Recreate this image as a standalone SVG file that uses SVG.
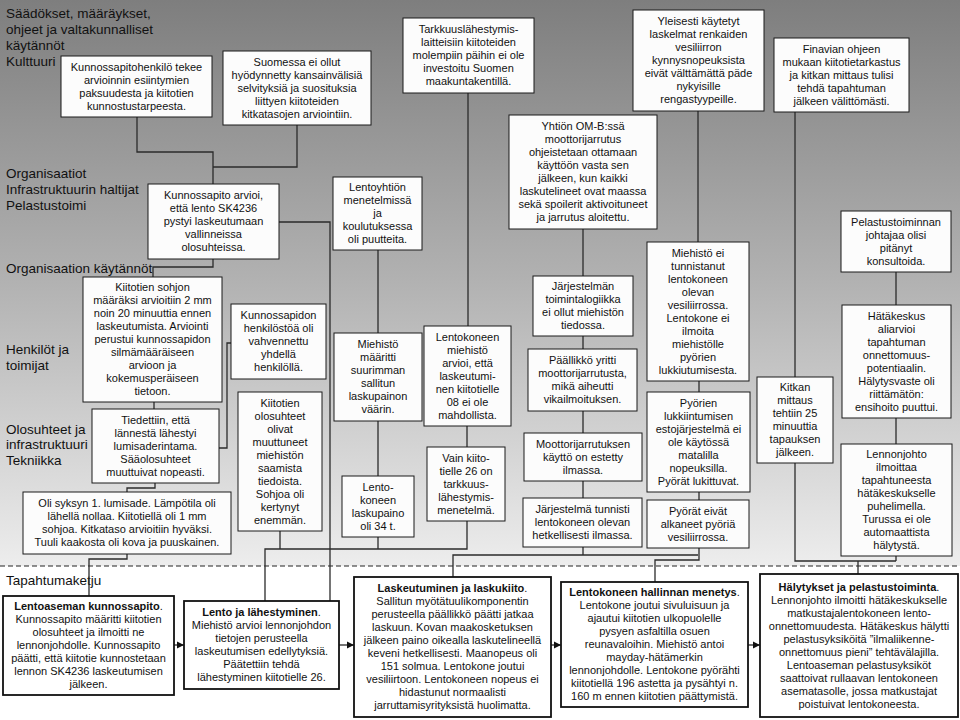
<svg xmlns="http://www.w3.org/2000/svg" width="960" height="720" viewBox="0 0 960 720">
<defs>
<linearGradient id="bg" x1="0" y1="0" x2="0" y2="1">
<stop offset="0" stop-color="#7e7e7e"/>
<stop offset="0.5" stop-color="#b2b2b2"/>
<stop offset="1" stop-color="#ededed"/>
</linearGradient>
<marker id="arr" markerWidth="8" markerHeight="8" refX="7" refY="4" orient="auto" markerUnits="userSpaceOnUse">
<path d="M0,0.5 L7,4 L0,7.5 Z" fill="#111"/>
</marker>
<style>
.box{fill:#fcfcfc;stroke:#1a1a1a;stroke-width:1}
.ev{fill:#ffffff;stroke:#111;stroke-width:1.8}
.t{font-family:"Liberation Sans",Arial,sans-serif;font-size:11px;fill:#111;text-anchor:middle}
.lab{font-family:"Liberation Sans",Arial,sans-serif;font-size:13.5px;fill:#111}
.c{fill:none;stroke:#2b2b2b;stroke-width:1.3}
.b{font-weight:bold}
</style>
</defs>
<rect x="0" y="0" width="960" height="566" fill="url(#bg)"/>
<rect x="0" y="566" width="960" height="154" fill="#ffffff"/>
<line x1="0" y1="566" x2="960" y2="566" stroke="#222" stroke-width="1" stroke-dasharray="5 3"/>

<g id="labels">
<text class="lab" x="6" y="18">Säädökset, määräykset,</text>
<text class="lab" x="6" y="34">ohjeet ja valtakunnalliset</text>
<text class="lab" x="6" y="50">käytännöt</text>
<text class="lab" x="6" y="66">Kulttuuri</text>
<text class="lab" x="6" y="178">Organisaatiot</text>
<text class="lab" x="6" y="194">Infrastruktuurin  haltijat</text>
<text class="lab" x="6" y="210">Pelastustoimi</text>
<text class="lab" x="6" y="273">Organisaation  käytännöt</text>
<text class="lab" x="6" y="354">Henkilöt ja</text>
<text class="lab" x="6" y="370">toimijat</text>
<text class="lab" x="6" y="434">Olosuhteet ja</text>
<text class="lab" x="6" y="449">infrastruktuuri</text>
<text class="lab" x="6" y="465">Tekniikka</text>
<text class="lab" x="6" y="585">Tapahtumaketju</text>
</g>

<g id="connectors">
<polyline class="c" points="137,117 137,152 213,152 213,184"/>
<polyline class="c" points="297,125 297,167 213,167"/>
<polyline class="c" points="213,259 213,267 153,267 153,277"/>
<polyline class="c" points="154,402 154,409"/>
<polyline class="c" points="231,343 227,343 227,448 219,448"/>
<polyline class="c" points="155,483 155,488 127,488 127,492"/>
<polyline class="c" points="127,554 127,559 89,559 89,596"/>
<polyline class="c" points="279,222 330,222 330,601"/>
<polyline class="c" points="378,250 378,333"/>
<polyline class="c" points="378,421 378,476"/>
<polyline class="c" points="378,537 378,549"/>
<polyline class="c" points="280,531 280,549"/>
<polyline class="c" points="468,93 468,326"/>
<polyline class="c" points="467,426 467,447"/>
<polyline class="c" points="467,521 467,549 265,549 265,601"/>
<polyline class="c" points="583,229 583,276"/>
<polyline class="c" points="583,336 583,349"/>
<polyline class="c" points="583,411 583,433"/>
<polyline class="c" points="583,481 583,498"/>
<polyline class="c" points="583,547 583,555"/>
<polyline class="c" points="698,555 453,555 453,577"/>
<polyline class="c" points="698,111 698,242"/>
<polyline class="c" points="699,381 699,392"/>
<polyline class="c" points="699,492 699,500"/>
<polyline class="c" points="699,548 699,560 655,560 655,582"/>
<polyline class="c" points="795,112 795,377"/>
<polyline class="c" points="795,463 795,561 896,561"/>
<polyline class="c" points="896,272 896,305"/>
<polyline class="c" points="896,418 896,444"/>
<polyline class="c" points="896,556 896,561"/>
<polyline class="c" points="858,561 858,574"/>
<line class="c" x1="174" y1="645" x2="184" y2="645" marker-end="url(#arr)"/>
<line class="c" x1="339" y1="645" x2="354" y2="645" marker-end="url(#arr)"/>
<line class="c" x1="551" y1="645" x2="561" y2="645" marker-end="url(#arr)"/>
<line class="c" x1="748" y1="645" x2="760" y2="645" marker-end="url(#arr)"/>
</g>

<g id="n-kunnossapitohenkilo">
<rect class="box" x="61" y="56" width="151" height="61"/>
<text class="t" x="136.5" y="70.8"><tspan x="136.5">Kunnossapitohenkilö tekee</tspan><tspan x="136.5" dy="13">arvioinnin esiintymien</tspan><tspan x="136.5" dy="13">paksuudesta ja kiitotien</tspan><tspan x="136.5" dy="13">kunnostustarpeesta.</tspan></text>
</g>
<g id="n-suomessa">
<rect class="box" x="223" y="51" width="148" height="74"/>
<text class="t" x="297" y="65.8"><tspan x="297">Suomessa ei ollut</tspan><tspan x="297" dy="13">hyödynnetty kansainvälisiä</tspan><tspan x="297" dy="13">selvityksiä ja suosituksia</tspan><tspan x="297" dy="13">liittyen kiitoteiden</tspan><tspan x="297" dy="13">kitkatasojen  arviointiin.</tspan></text>
</g>
<g id="n-kunnossapito-arvioi">
<rect class="box" x="148" y="184" width="131" height="75"/>
<text class="t" x="213.5" y="199.3"><tspan x="213.5">Kunnossapito arvioi,</tspan><tspan x="213.5" dy="13">että lento SK4236</tspan><tspan x="213.5" dy="13">pystyi laskeutumaan</tspan><tspan x="213.5" dy="13">vallinneissa</tspan><tspan x="213.5" dy="13">olosuhteissa.</tspan></text>
</g>
<g id="n-lentoyhtion">
<rect class="box" x="333" y="177" width="89" height="73"/>
<text class="t" x="377.5" y="191.3"><tspan x="377.5">Lentoyhtiön</tspan><tspan x="377.5" dy="13">menetelmissä</tspan><tspan x="377.5" dy="13">ja</tspan><tspan x="377.5" dy="13">koulutuksessa</tspan><tspan x="377.5" dy="13">oli puutteita.</tspan></text>
</g>
<g id="n-tarkkuus">
<rect class="box" x="403" y="18" width="131" height="75"/>
<text class="t" x="468.5" y="33.3"><tspan x="468.5">Tarkkuuslähestymis-</tspan><tspan x="468.5" dy="13">laitteisiin  kiitoteiden</tspan><tspan x="468.5" dy="13">molempiin  päihin ei ole</tspan><tspan x="468.5" dy="13">investoitu Suomen</tspan><tspan x="468.5" dy="13">maakuntakentillä.</tspan></text>
</g>
<g id="n-yleisesti">
<rect class="box" x="633" y="10" width="131" height="101"/>
<text class="t" x="698.5" y="25.3"><tspan x="698.5">Yleisesti käytetyt</tspan><tspan x="698.5" dy="13">laskelmat  renkaiden</tspan><tspan x="698.5" dy="13">vesiliirron</tspan><tspan x="698.5" dy="13">kynnysnopeuksista</tspan><tspan x="698.5" dy="13">eivät välttämättä päde</tspan><tspan x="698.5" dy="13">nykyisille</tspan><tspan x="698.5" dy="13">rengastyypeille.</tspan></text>
</g>
<g id="n-finavian">
<rect class="box" x="774" y="38" width="135" height="74"/>
<text class="t" x="841.5" y="52.8"><tspan x="841.5">Finavian ohjeen</tspan><tspan x="841.5" dy="13">mukaan  kiitotietarkastus</tspan><tspan x="841.5" dy="13">ja kitkan mittaus tulisi</tspan><tspan x="841.5" dy="13">tehdä tapahtuman</tspan><tspan x="841.5" dy="13">jälkeen  välittömästi.</tspan></text>
</g>
<g id="n-yhtion">
<rect class="box" x="509" y="115" width="148" height="114"/>
<text class="t" x="583" y="130.3"><tspan x="583">Yhtiön OM-B:ssä</tspan><tspan x="583" dy="13">moottorijarrutus</tspan><tspan x="583" dy="13">ohjeistetaan ottamaan</tspan><tspan x="583" dy="13">käyttöön vasta sen</tspan><tspan x="583" dy="13">jälkeen,  kun kaikki</tspan><tspan x="583" dy="13">laskutelineet  ovat maassa</tspan><tspan x="583" dy="13">sekä spoilerit aktivoituneet</tspan><tspan x="583" dy="13">ja jarrutus aloitettu.</tspan></text>
</g>
<g id="n-pelastustoiminnan">
<rect class="box" x="841" y="211" width="110" height="61"/>
<text class="t" x="896" y="225.8"><tspan x="896">Pelastustoiminnan</tspan><tspan x="896" dy="13">johtajaa  olisi</tspan><tspan x="896" dy="13">pitänyt</tspan><tspan x="896" dy="13">konsultoida.</tspan></text>
</g>
<g id="n-jarjestelman">
<rect class="box" x="533" y="276" width="100" height="60"/>
<text class="t" x="583" y="290.3"><tspan x="583">Järjestelmän</tspan><tspan x="583" dy="13">toimintalogiikka</tspan><tspan x="583" dy="13">ei ollut  miehistön</tspan><tspan x="583" dy="13">tiedossa.</tspan></text>
</g>
<g id="n-miehisto-ei">
<rect class="box" x="647" y="242" width="102" height="139"/>
<text class="t" x="698" y="256.8"><tspan x="698">Miehistö  ei</tspan><tspan x="698" dy="13">tunnistanut</tspan><tspan x="698" dy="13">lentokoneen</tspan><tspan x="698" dy="13">olevan</tspan><tspan x="698" dy="13">vesiliirrossa.</tspan><tspan x="698" dy="13">Lentokone ei</tspan><tspan x="698" dy="13">ilmoita</tspan><tspan x="698" dy="13">miehistölle</tspan><tspan x="698" dy="13">pyörien</tspan><tspan x="698" dy="13">lukkiutumisesta.</tspan></text>
</g>
<g id="n-kiitotien-sohjon">
<rect class="box" x="83" y="277" width="139" height="125"/>
<text class="t" x="152.5" y="291.3"><tspan x="152.5">Kiitotien sohjon</tspan><tspan x="152.5" dy="13">määräksi arvioitiin 2 mm</tspan><tspan x="152.5" dy="13">noin 20 minuuttia  ennen</tspan><tspan x="152.5" dy="13">laskeutumista. Arviointi</tspan><tspan x="152.5" dy="13">perustui kunnossapidon</tspan><tspan x="152.5" dy="13">silmämääräiseen</tspan><tspan x="152.5" dy="13">arvioon ja</tspan><tspan x="152.5" dy="13">kokemusperäiseen</tspan><tspan x="152.5" dy="13">tietoon.</tspan></text>
</g>
<g id="n-kunnossapidon-henkilosto">
<rect class="box" x="231" y="304" width="95" height="75"/>
<text class="t" x="278.5" y="319.3"><tspan x="278.5">Kunnossapidon</tspan><tspan x="278.5" dy="13">henkilöstöä oli</tspan><tspan x="278.5" dy="13">vahvennettu</tspan><tspan x="278.5" dy="13">yhdellä</tspan><tspan x="278.5" dy="13">henkilöllä.</tspan></text>
</g>
<g id="n-miehisto-maaritti">
<rect class="box" x="334" y="333" width="88" height="88"/>
<text class="t" x="378" y="348.3"><tspan x="378">Miehistö</tspan><tspan x="378" dy="13">määritti</tspan><tspan x="378" dy="13">suurimman</tspan><tspan x="378" dy="13">sallitun</tspan><tspan x="378" dy="13">laskupainon</tspan><tspan x="378" dy="13">väärin.</tspan></text>
</g>
<g id="n-lentokoneen-miehisto">
<rect class="box" x="424" y="326" width="87" height="100"/>
<text class="t" x="467.5" y="340.8"><tspan x="467.5">Lentokoneen</tspan><tspan x="467.5" dy="13">miehistö</tspan><tspan x="467.5" dy="13">arvioi, että</tspan><tspan x="467.5" dy="13">laskeutumi-</tspan><tspan x="467.5" dy="13">nen kiitotielle</tspan><tspan x="467.5" dy="13">08 ei ole</tspan><tspan x="467.5" dy="13">mahdollista.</tspan></text>
</g>
<g id="n-paallikko">
<rect class="box" x="528" y="349" width="109" height="62"/>
<text class="t" x="582.5" y="364.3"><tspan x="582.5">Päällikkö  yritti</tspan><tspan x="582.5" dy="13">moottorijarrutusta,</tspan><tspan x="582.5" dy="13">mikä  aiheutti</tspan><tspan x="582.5" dy="13">vikailmoituksen.</tspan></text>
</g>
<g id="n-hatakeskus">
<rect class="box" x="842" y="305" width="109" height="113"/>
<text class="t" x="896.5" y="319.8"><tspan x="896.5">Hätäkeskus</tspan><tspan x="896.5" dy="13">aliarvioi</tspan><tspan x="896.5" dy="13">tapahtuman</tspan><tspan x="896.5" dy="13">onnettomuus-</tspan><tspan x="896.5" dy="13">potentiaalin.</tspan><tspan x="896.5" dy="13">Hälytysvaste oli</tspan><tspan x="896.5" dy="13">riittämätön:</tspan><tspan x="896.5" dy="13">ensihoito puuttui.</tspan></text>
</g>
<g id="n-kitkan">
<rect class="box" x="757" y="377" width="76" height="86"/>
<text class="t" x="795" y="391.3"><tspan x="795">Kitkan</tspan><tspan x="795" dy="13">mittaus</tspan><tspan x="795" dy="13">tehtiin 25</tspan><tspan x="795" dy="13">minuuttia</tspan><tspan x="795" dy="13">tapauksen</tspan><tspan x="795" dy="13">jälkeen.</tspan></text>
</g>
<g id="n-pyorien">
<rect class="box" x="647" y="392" width="103" height="100"/>
<text class="t" x="698.5" y="406.8"><tspan x="698.5">Pyörien</tspan><tspan x="698.5" dy="13">lukkiintumisen</tspan><tspan x="698.5" dy="13">estojärjestelmä ei</tspan><tspan x="698.5" dy="13">ole käytössä</tspan><tspan x="698.5" dy="13">matalilla</tspan><tspan x="698.5" dy="13">nopeuksilla.</tspan><tspan x="698.5" dy="13">Pyörät lukittuvat.</tspan></text>
</g>
<g id="n-kiitotien-olosuhteet">
<rect class="box" x="238" y="392" width="84" height="139"/>
<text class="t" x="280" y="406.8"><tspan x="280">Kiitotien</tspan><tspan x="280" dy="13">olosuhteet</tspan><tspan x="280" dy="13">olivat</tspan><tspan x="280" dy="13">muuttuneet</tspan><tspan x="280" dy="13">miehistön</tspan><tspan x="280" dy="13">saamista</tspan><tspan x="280" dy="13">tiedoista.</tspan><tspan x="280" dy="13">Sohjoa oli</tspan><tspan x="280" dy="13">kertynyt</tspan><tspan x="280" dy="13">enemmän.</tspan></text>
</g>
<g id="n-tiedettiin">
<rect class="box" x="92" y="409" width="127" height="74"/>
<text class="t" x="155.5" y="423.8"><tspan x="155.5">Tiedettiin, että</tspan><tspan x="155.5" dy="13">lännestä lähestyi</tspan><tspan x="155.5" dy="13">lumisaderintama.</tspan><tspan x="155.5" dy="13">Sääolosuhteet</tspan><tspan x="155.5" dy="13">muuttuivat nopeasti.</tspan></text>
</g>
<g id="n-moottorijarrutuksen">
<rect class="box" x="524" y="433" width="118" height="48"/>
<text class="t" x="583" y="447.8"><tspan x="583">Moottorijarrutuksen</tspan><tspan x="583" dy="13">käyttö on estetty</tspan><tspan x="583" dy="13">ilmassa.</tspan></text>
</g>
<g id="n-vain">
<rect class="box" x="427" y="447" width="78" height="74"/>
<text class="t" x="466" y="461.8"><tspan x="466">Vain kiito-</tspan><tspan x="466" dy="13">tielle 26 on</tspan><tspan x="466" dy="13">tarkkuus-</tspan><tspan x="466" dy="13">lähestymis-</tspan><tspan x="466" dy="13">menetelmä.</tspan></text>
</g>
<g id="n-lennonjohto">
<rect class="box" x="841" y="444" width="111" height="112"/>
<text class="t" x="896.5" y="458.3"><tspan x="896.5">Lennonjohto</tspan><tspan x="896.5" dy="13">ilmoittaa</tspan><tspan x="896.5" dy="13">tapahtuneesta</tspan><tspan x="896.5" dy="13">hätäkeskukselle</tspan><tspan x="896.5" dy="13">puhelimella.</tspan><tspan x="896.5" dy="13">Turussa ei ole</tspan><tspan x="896.5" dy="13">automaattista</tspan><tspan x="896.5" dy="13">hälytystä.</tspan></text>
</g>
<g id="n-laskupaino">
<rect class="box" x="342" y="476" width="72" height="61"/>
<text class="t" x="378" y="490.8"><tspan x="378">Lento-</tspan><tspan x="378" dy="13">koneen</tspan><tspan x="378" dy="13">laskupaino</tspan><tspan x="378" dy="13">oli 34 t.</tspan></text>
</g>
<g id="n-syksyn">
<rect class="box" x="23" y="492" width="208" height="62"/>
<text class="t" x="127" y="507.3"><tspan x="127">Oli syksyn 1. lumisade. Lämpötila  oli</tspan><tspan x="127" dy="13">lähellä nollaa. Kiitotiellä oli 1 mm</tspan><tspan x="127" dy="13">sohjoa. Kitkataso arvioitiin hyväksi.</tspan><tspan x="127" dy="13">Tuuli kaakosta oli kova ja puuskainen.</tspan></text>
</g>
<g id="n-jarjestelma-tunnisti">
<rect class="box" x="523" y="498" width="119" height="49"/>
<text class="t" x="582.5" y="513.3"><tspan x="582.5">Järjestelmä tunnisti</tspan><tspan x="582.5" dy="13">lentokoneen olevan</tspan><tspan x="582.5" dy="13">hetkellisesti ilmassa.</tspan></text>
</g>
<g id="n-pyorat-eivat">
<rect class="box" x="647" y="500" width="102" height="48"/>
<text class="t" x="698" y="514.8"><tspan x="698">Pyörät eivät</tspan><tspan x="698" dy="13">alkaneet pyöriä</tspan><tspan x="698" dy="13">vesiliirrossa.</tspan></text>
</g>

<g id="e-lentoaseman">
<rect class="ev" x="3" y="596" width="171" height="99"/>
<text class="t" x="88.5" y="610.3"><tspan x="88.5"><tspan class="b">Lentoaseman kunnossapito</tspan>.</tspan><tspan x="88.5" dy="13">Kunnossapito määritti kiitotien</tspan><tspan x="88.5" dy="13">olosuhteet ja ilmoitti  ne</tspan><tspan x="88.5" dy="13">lennonjohdolle.  Kunnossapito</tspan><tspan x="88.5" dy="13">päätti, että kiitotie  kunnostetaan</tspan><tspan x="88.5" dy="13">lennon SK4236 laskeutumisen</tspan><tspan x="88.5" dy="13">jälkeen.</tspan></text>
</g>
<g id="e-lento">
<rect class="ev" x="184" y="601" width="155" height="88"/>
<text class="t" x="261.5" y="616.3"><tspan x="261.5"><tspan class="b">Lento ja lähestyminen</tspan>.</tspan><tspan x="261.5" dy="13">Miehistö  arvioi lennonjohdon</tspan><tspan x="261.5" dy="13">tietojen  perusteella</tspan><tspan x="261.5" dy="13">laskeutumisen edellytyksiä.</tspan><tspan x="261.5" dy="13">Päätettiin  tehdä</tspan><tspan x="261.5" dy="13">lähestyminen kiitotielle  26.</tspan></text>
</g>
<g id="e-laskeutuminen">
<rect class="ev" x="354" y="577" width="197" height="140"/>
<text class="t" x="452.5" y="592.3"><tspan x="452.5"><tspan class="b">Laskeutuminen ja laskukiito</tspan>.</tspan><tspan x="452.5" dy="13">Sallitun  myötätuulikomponentin</tspan><tspan x="452.5" dy="13">perusteella päällikkö  päätti jatkaa</tspan><tspan x="452.5" dy="13">laskuun. Kovan maakosketuksen</tspan><tspan x="452.5" dy="13">jälkeen paino oikealla  laskutelineellä</tspan><tspan x="452.5" dy="13">keveni hetkellisesti. Maanopeus oli</tspan><tspan x="452.5" dy="13">151 solmua.  Lentokone  joutui</tspan><tspan x="452.5" dy="13">vesiliirtoon. Lentokoneen  nopeus ei</tspan><tspan x="452.5" dy="13">hidastunut normaalisti</tspan><tspan x="452.5" dy="13">jarruttamisyrityksistä huolimatta.</tspan></text>
</g>
<g id="e-hallinnan">
<rect class="ev" x="561" y="582" width="187" height="125"/>
<text class="t" x="654.5" y="596.3"><tspan x="654.5"><tspan class="b">Lentokoneen hallinnan menetys</tspan>.</tspan><tspan x="654.5" dy="13">Lentokone joutui sivuluisuun ja</tspan><tspan x="654.5" dy="13">ajautui kiitotien ulkopuolelle</tspan><tspan x="654.5" dy="13">pysyen asfaltilla osuen</tspan><tspan x="654.5" dy="13">reunavaloihin. Miehistö  antoi</tspan><tspan x="654.5" dy="13">mayday-hätämerkin</tspan><tspan x="654.5" dy="13">lennonjohdolle.  Lentokone pyörähti</tspan><tspan x="654.5" dy="13">kiitotiellä  196 astetta ja pysähtyi n.</tspan><tspan x="654.5" dy="13">160 m ennen kiitotien päättymistä.</tspan></text>
</g>
<g id="e-halytykset">
<rect class="ev" x="760" y="574" width="198" height="143"/>
<text class="t" x="859" y="590.8"><tspan x="859"><tspan class="b">Hälytykset ja pelastustoiminta</tspan>.</tspan><tspan x="859" dy="13">Lennonjohto ilmoitti  hätäkeskukselle</tspan><tspan x="859" dy="13">matkustajalentokoneen  lento-</tspan><tspan x="859" dy="13">onnettomuudesta. Hätäkeskus hälytti</tspan><tspan x="859" dy="13">pelastusyksiköitä ”ilmaliikenne-</tspan><tspan x="859" dy="13">onnettomuus pieni” tehtävälajilla.</tspan><tspan x="859" dy="13">Lentoaseman pelastusyksiköt</tspan><tspan x="859" dy="13">saattoivat rullaavan lentokoneen</tspan><tspan x="859" dy="13">asematasolle, jossa matkustajat</tspan><tspan x="859" dy="13">poistuivat lentokoneesta.</tspan></text>
</g>
</svg>
